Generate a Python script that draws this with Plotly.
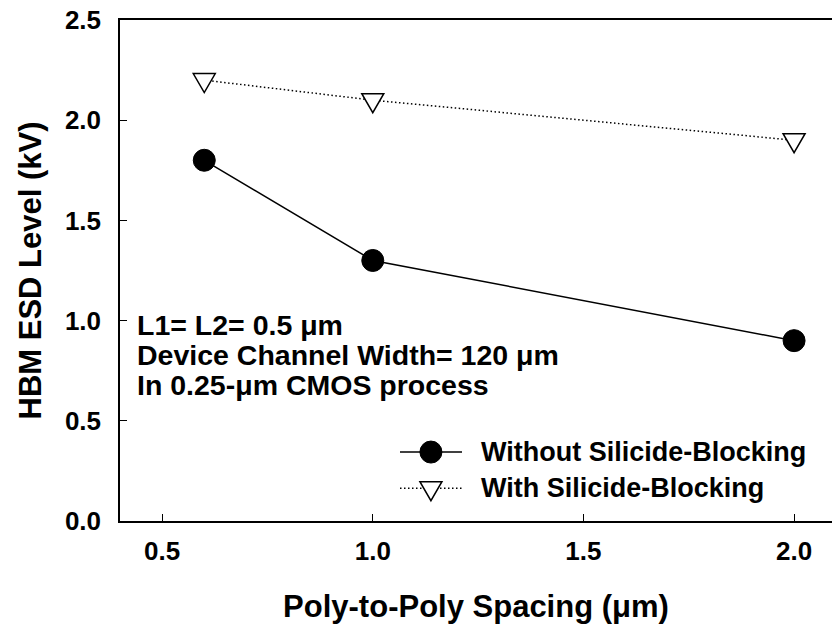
import plotly.graph_objects as go

# Data
spacing = [0.6, 1.0, 2.0]
without_sb = [1.8, 1.3, 0.9]
with_sb = [2.2, 2.1, 1.9]
series_names = ["Without Silicide-Blocking", "With Silicide-Blocking"]
x_ticks = [0.5, 1.0, 1.5, 2.0]
y_ticks = [0.0, 0.5, 1.0, 1.5, 2.0, 2.5]
notes = ["L1= L2= 0.5 μm", "Device Channel Width= 120 μm", "In 0.25-μm CMOS process"]

FONT = "Liberation Sans, Arial, sans-serif"
TRI_PATH = "M-11,6.5 L11,6.5 L0,-12.5 Z"  # open downward triangle glyph (pixels)
DOT = "1.5px,2.5px"

fig = go.Figure()
fig.add_trace(go.Scatter(
    x=spacing, y=without_sb, mode="lines+markers", name=series_names[0],
    line=dict(color="black", width=1.5),
    marker=dict(symbol="circle", size=22, color="black", line=dict(color="black", width=1)),
    showlegend=False,
))
fig.add_trace(go.Scatter(
    x=spacing, y=with_sb, mode="lines", name=series_names[1],
    line=dict(color="black", width=1.5, dash=DOT),
    showlegend=False,
))


def add_triangle(xv, yv):
    fig.add_shape(type="path", path=TRI_PATH, xref="x", yref="y",
                  xsizemode="pixel", ysizemode="pixel", xanchor=xv, yanchor=yv,
                  fillcolor="white", line=dict(color="black", width=1.5), layer="above")


for xv, yv in zip(spacing, with_sb):
    add_triangle(xv, yv)

# Notes
note_y = [0.98, 0.83, 0.68]
for t, yy in zip(notes, note_y):
    fig.add_annotation(x=0.435, y=yy, xref="x", yref="y", text=t, showarrow=False,
                       xanchor="left", yanchor="middle",
                       font=dict(family=FONT, size=28.5, color="black", weight="bold"))

# Manual legend
leg_x0, leg_x1, leg_xm, leg_xt = 1.0646, 1.2118, 1.138, 1.252
leg_y = [0.344, 0.164]
fig.add_shape(type="line", x0=leg_x0, x1=leg_x1, y0=leg_y[0], y1=leg_y[0], xref="x", yref="y",
              line=dict(color="black", width=1.5))
fig.add_shape(type="line", x0=leg_x0, x1=leg_x1, y0=leg_y[1], y1=leg_y[1], xref="x", yref="y",
              line=dict(color="black", width=1.5, dash=DOT))
fig.add_trace(go.Scatter(x=[leg_xm], y=[leg_y[0]], mode="markers", showlegend=False, hoverinfo="skip",
                         marker=dict(symbol="circle", size=22, color="black", line=dict(color="black", width=1))))
add_triangle(leg_xm, leg_y[1])
for name, yy in zip(series_names, leg_y):
    fig.add_annotation(x=leg_xt, y=yy, xref="x", yref="y", text=name, showarrow=False,
                       xanchor="left", yanchor="middle",
                       font=dict(family=FONT, size=27, color="black", weight="bold"))

fig.update_layout(
    width=832, height=626,
    margin=dict(l=120, r=0, t=20, b=105),
    paper_bgcolor="white", plot_bgcolor="white",
    font=dict(family=FONT, color="black"),
)
fig.update_xaxes(
    range=[0.4, 2.09], tickvals=x_ticks, ticktext=[f"{v:.1f}" for v in x_ticks],
    ticks="inside", ticklen=7, tickwidth=1, tickcolor="black",
    showline=True, linecolor="black", linewidth=1.5, mirror=True,
    showgrid=False, zeroline=False,
    tickfont=dict(family=FONT, size=26, color="black", weight="bold"),
    ticklabelstandoff=6,
    title=dict(text="Poly-to-Poly Spacing (μm)", standoff=30,
               font=dict(family=FONT, size=31, color="black", weight="bold")),
)
fig.update_yaxes(
    range=[0, 2.5], tickvals=y_ticks, ticktext=[f"{v:.1f}" for v in y_ticks],
    ticks="inside", ticklen=7, tickwidth=1, tickcolor="black",
    showline=True, linecolor="black", linewidth=1.5, mirror=False,
    showgrid=False, zeroline=False,
    tickfont=dict(family=FONT, size=26, color="black", weight="bold"),
    ticklabelstandoff=12,
    title=dict(text="HBM ESD Level (kV)", standoff=14,
               font=dict(family=FONT, size=31, color="black", weight="bold")),
)

fig.write_html("out.html")
